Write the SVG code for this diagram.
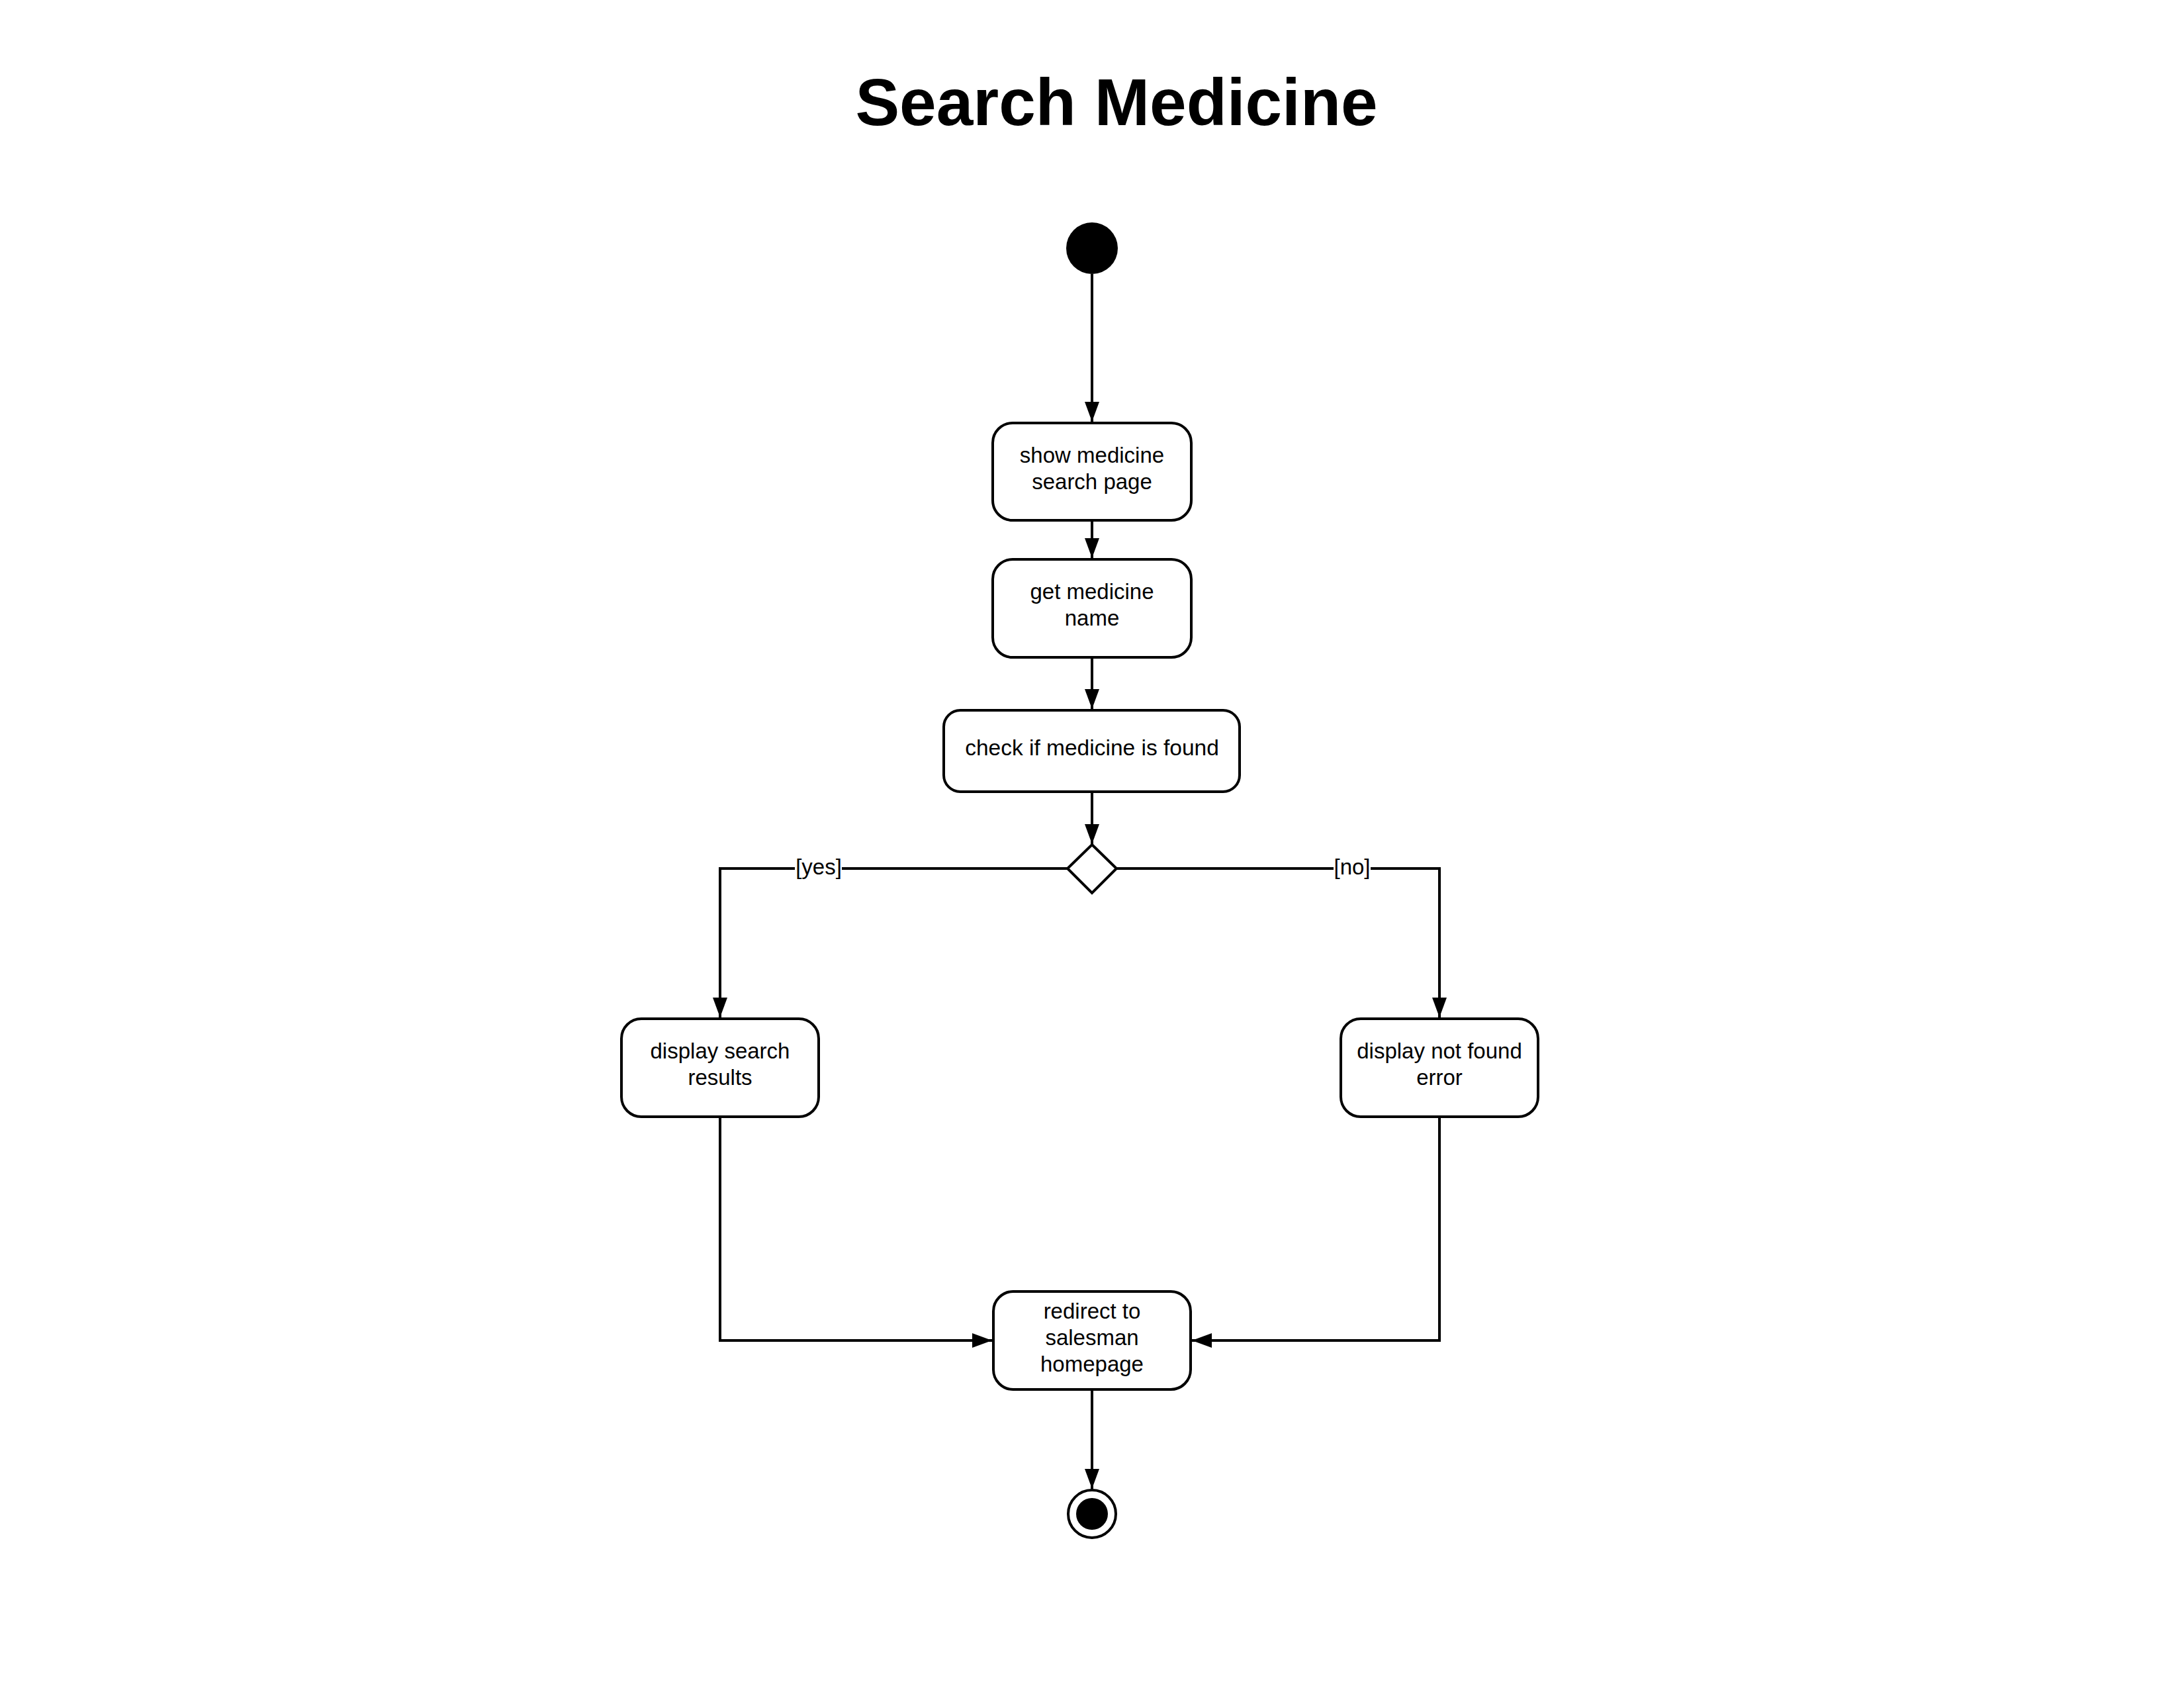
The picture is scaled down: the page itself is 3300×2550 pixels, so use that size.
<svg xmlns="http://www.w3.org/2000/svg" width="3300" height="2550" viewBox="0 0 3300 2550">
  <defs>
    <style>
      .box { fill: #ffffff; stroke: #000000; stroke-width: 4; }
      .lbl { font-family: "Liberation Sans", Arial, sans-serif; font-size: 33px; fill: #000000; text-anchor: middle; }
      .edge { fill: none; stroke: #000000; stroke-width: 4; }
      .title { font-family: "Liberation Sans", Arial, sans-serif; font-size: 100px; font-weight: bold; fill: #000000; text-anchor: middle; }
    </style>
    <marker id="arrow" markerUnits="userSpaceOnUse" markerWidth="30" markerHeight="22" refX="30" refY="11" orient="auto">
      <path d="M0,0 L30,11 L0,22 Z" fill="#000000"/>
    </marker>
  </defs>
  <rect x="0" y="0" width="3300" height="2550" fill="#ffffff"/>

  <text class="title" x="1687" y="189">Search Medicine</text>

  <g id="connectors">
    <path class="edge" d="M1650,414 V637" marker-end="url(#arrow)"/>
    <path class="edge" d="M1650,788 V843" marker-end="url(#arrow)"/>
    <path class="edge" d="M1650,995 V1071" marker-end="url(#arrow)"/>
    <path class="edge" d="M1650,1198 V1275" marker-end="url(#arrow)"/>
    <path class="edge" d="M1613,1312 H1088 V1537" marker-end="url(#arrow)"/>
    <path class="edge" d="M1687,1312 H2175 V1537" marker-end="url(#arrow)"/>
    <path class="edge" d="M1088,1689 V2025 H1499" marker-end="url(#arrow)"/>
    <path class="edge" d="M2175,1689 V2025 H1801" marker-end="url(#arrow)"/>
    <path class="edge" d="M1650,2101 V2249" marker-end="url(#arrow)"/>
    <g id="label-yes">
      <rect x="1201" y="1293" width="71" height="38" fill="#ffffff"/>
      <text class="lbl" x="1237" y="1321">[yes]</text>
    </g>
    <g id="label-no">
      <rect x="2015" y="1293" width="56" height="38" fill="#ffffff"/>
      <text class="lbl" x="2043" y="1321">[no]</text>
    </g>
  </g>

  <g id="start">
    <circle cx="1650" cy="375" r="39" fill="#000000"/>
  </g>

  <g id="show-medicine-search-page">
    <rect class="box" x="1500" y="639" width="300" height="147" rx="30" ry="30"/>
    <text class="lbl" x="1650" y="699">show medicine</text>
    <text class="lbl" x="1650" y="739">search page</text>
  </g>

  <g id="get-medicine-name">
    <rect class="box" x="1500" y="845" width="300" height="148" rx="30" ry="30"/>
    <text class="lbl" x="1650" y="905">get medicine</text>
    <text class="lbl" x="1650" y="945">name</text>
  </g>

  <g id="check-if-found">
    <rect class="box" x="1426" y="1073" width="447" height="123" rx="25" ry="25"/>
    <text class="lbl" x="1650" y="1141" style="font-size:33.5px">check if medicine is found</text>
  </g>

  <g id="decision">
    <polygon class="box" points="1650,1276 1687,1312 1650,1349 1613,1312"/>
  </g>

  <g id="display-search-results">
    <rect class="box" x="939" y="1539" width="298" height="148" rx="30" ry="30"/>
    <text class="lbl" x="1088" y="1599">display search</text>
    <text class="lbl" x="1088" y="1639">results</text>
  </g>

  <g id="display-not-found-error">
    <rect class="box" x="2026" y="1539" width="298" height="148" rx="30" ry="30"/>
    <text class="lbl" x="2175" y="1599">display not found</text>
    <text class="lbl" x="2175" y="1639">error</text>
  </g>

  <g id="redirect-to-salesman-homepage">
    <rect class="box" x="1501" y="1951" width="298" height="148" rx="30" ry="30"/>
    <text class="lbl" x="1650" y="1992">redirect to</text>
    <text class="lbl" x="1650" y="2032">salesman</text>
    <text class="lbl" x="1650" y="2072">homepage</text>
  </g>

  <g id="end">
    <circle cx="1650" cy="2287" r="36" fill="#ffffff" stroke="#000000" stroke-width="4"/>
    <circle cx="1650" cy="2287" r="24" fill="#000000"/>
  </g>
</svg>
